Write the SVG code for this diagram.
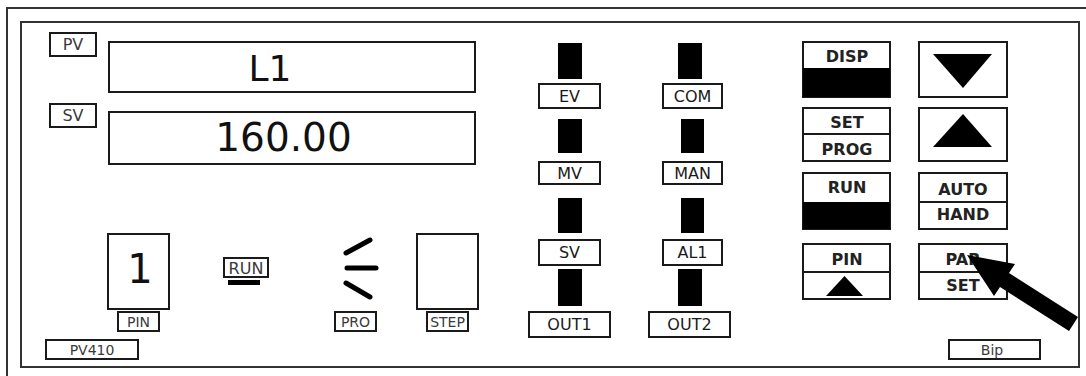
<svg xmlns="http://www.w3.org/2000/svg" width="1086" height="376" viewBox="0 0 1086 376">
<style>
.frame{fill:none;stroke:#333;stroke-width:2}
.box{fill:#fff;stroke:#1a1a1a;stroke-width:2}
.bar{fill:#000}
.t{font-family:"DejaVu Sans","Noto Sans",sans-serif;text-anchor:middle}
.lbl{font-size:14px;fill:#3a3a3a}
.lbl2{font-size:16px;fill:#3a3a3a}
.mid{font-size:16px;fill:#1a1a1a}
.btn{font-size:16px;font-weight:bold;fill:#222}
.big{font-size:39px;fill:#111}
.stroke{stroke:#000;stroke-width:5;stroke-linecap:round;fill:none}
</style>
<rect width="1086" height="376" fill="#fff"/>
<g id="frame">
<path class="frame" d="M7 376 V8 H1086"/>
<rect class="frame" x="21" y="22" width="1058" height="345"/>
</g>
<g id="pv-label"><rect class="box" x="50" y="33" width="46" height="23"/><text class="t lbl2" x="73" y="50">PV</text></g>
<g id="sv-label"><rect class="box" x="50" y="104" width="46" height="23"/><text class="t lbl2" x="73" y="121">SV</text></g>
<g id="pv-display"><rect class="box" x="109" y="42" width="366" height="50"/><text class="t big" x="270" y="81" style="font-size:36px">L1</text></g>
<g id="sv-display"><rect class="box" x="109" y="112" width="366" height="52"/><text class="t big" x="283.5" y="151">160.00</text></g>
<g id="pin-display"><rect class="box" x="108" y="234" width="61" height="75"/><text class="t big" x="140" y="283" style="font-size:40px">1</text></g>
<g id="pin-label"><rect class="box" x="118" y="312" width="41" height="19"/><text class="t lbl" x="138.5" y="327">PIN</text></g>
<g id="run-indicator"><rect class="box" x="224" y="258" width="44" height="19"/><text class="t lbl2" x="246" y="274">RUN</text><rect class="bar" x="228" y="280" width="32" height="5"/></g>
<g id="pro-indicator">
<line class="stroke" x1="346" y1="253" x2="370" y2="240"/>
<line class="stroke" x1="347" y1="268" x2="376" y2="268"/>
<line class="stroke" x1="346" y1="283" x2="370" y2="297"/>
<rect class="box" x="335" y="312" width="41" height="19"/><text class="t lbl" x="355.5" y="327">PRO</text></g>
<g id="step-display"><rect class="box" x="417" y="234" width="61" height="75"/><rect class="box" x="427" y="312" width="41" height="19"/><text class="t lbl" x="447.5" y="327">STEP</text></g>
<g id="model-label"><rect class="box" x="46" y="340" width="92" height="19"/><text class="t lbl" x="92" y="355">PV410</text></g>
<g id="ev-led"><rect class="bar" x="558" y="43" width="24" height="36"/><rect class="box" x="539" y="84" width="61" height="24"/><text class="t mid" x="569.5" y="102">EV</text></g>
<g id="mv-led"><rect class="bar" x="558" y="119" width="24" height="34"/><rect class="box" x="539" y="162" width="61" height="22"/><text class="t mid" x="569.5" y="179">MV</text></g>
<g id="sv-led"><rect class="bar" x="558" y="198" width="24" height="35"/><rect class="box" x="539" y="240" width="61" height="25"/><text class="t mid" x="569.5" y="258">SV</text></g>
<g id="out1-led"><rect class="bar" x="558" y="269" width="24" height="37"/><rect class="box" x="529" y="312" width="81" height="25"/><text class="t mid" x="569.5" y="330">OUT1</text></g>
<g id="com-led"><rect class="bar" x="678" y="43" width="24" height="36"/><rect class="box" x="663" y="84" width="59" height="24"/><text class="t mid" x="692.5" y="102">COM</text></g>
<g id="man-led"><rect class="bar" x="681" y="119" width="23" height="34"/><rect class="box" x="663" y="162" width="59" height="22"/><text class="t mid" x="692.5" y="179">MAN</text></g>
<g id="al1-led"><rect class="bar" x="681" y="198" width="23" height="35"/><rect class="box" x="663" y="240" width="59" height="25"/><text class="t mid" x="692.5" y="258">AL1</text></g>
<g id="out2-led"><rect class="bar" x="678" y="269" width="24" height="37"/><rect class="box" x="649" y="312" width="81" height="25"/><text class="t mid" x="689.5" y="330">OUT2</text></g>
<g id="disp-key"><rect class="box" x="803" y="42" width="87" height="55"/><rect class="bar" x="803" y="68" width="87" height="29"/><text class="t btn" x="847" y="62">DISP</text></g>
<g id="down-key"><rect class="box" x="919" y="42" width="88" height="55"/><polygon class="bar" points="933,54 992,54 963,88"/></g>
<g id="set-prog-key"><rect class="box" x="803" y="108" width="87" height="53"/><line class="box" x1="803" y1="134" x2="890" y2="134"/><text class="t btn" x="847" y="128">SET</text><text class="t btn" x="847" y="155">PROG</text></g>
<g id="up-key"><rect class="box" x="919" y="108" width="88" height="53"/><polygon class="bar" points="933,147 992,147 963,114"/></g>
<g id="run-key"><rect class="box" x="803" y="173" width="87" height="56"/><rect class="bar" x="803" y="202" width="87" height="27"/><text class="t btn" x="847" y="193">RUN</text></g>
<g id="auto-hand-key"><rect class="box" x="919" y="173" width="88" height="56"/><line class="box" x1="919" y1="202" x2="1007" y2="202"/><text class="t btn" x="963" y="195">AUTO</text><text class="t btn" x="963" y="220">HAND</text></g>
<g id="pin-key"><rect class="box" x="803" y="244" width="87" height="55"/><line class="box" x1="803" y1="272" x2="890" y2="272"/><text class="t btn" x="847" y="265">PIN</text><polygon class="bar" points="826,296 863,296 844.5,276"/></g>
<g id="par-set-key"><rect class="box" x="919" y="244" width="88" height="55"/><line class="box" x1="919" y1="272" x2="1007" y2="272"/><text class="t btn" x="963" y="265">PAR</text><text class="t btn" x="963" y="291">SET</text></g>
<g id="bip-label"><rect class="box" x="949" y="340" width="91" height="19"/><text class="t lbl" x="992" y="355">Bip</text></g>
<g id="connectors">
<polygon fill="#000" points="967,255 1015,264 1009,273 1078,317 1069,331 1000,287 994,296"/>
</g>
</svg>
